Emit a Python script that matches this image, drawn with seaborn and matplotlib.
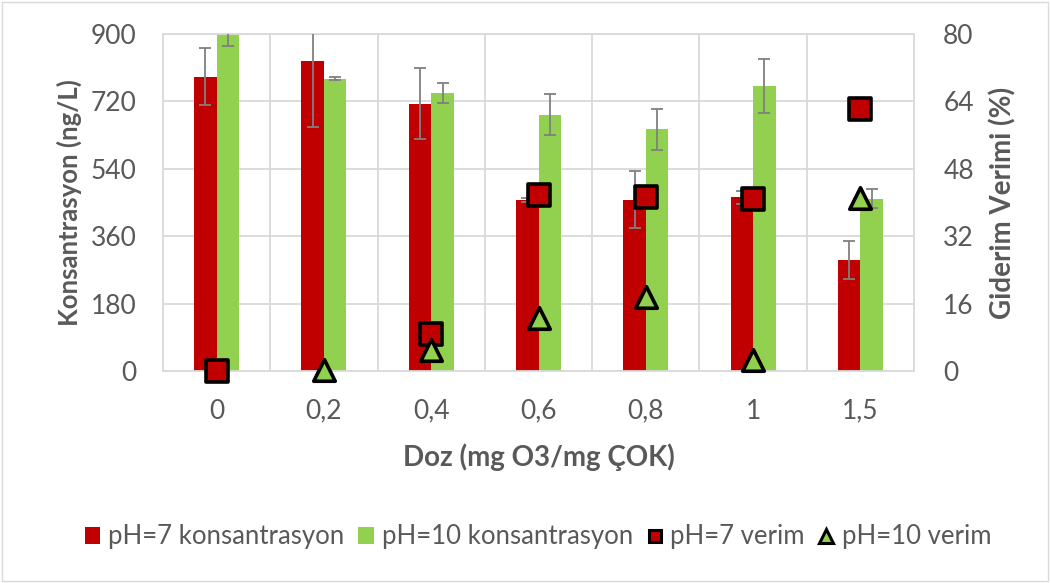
import numpy as np
import pandas as pd
import matplotlib
matplotlib.use("Agg")
import matplotlib.pyplot as plt
import seaborn as sns
from matplotlib.lines import Line2D
from matplotlib.patches import Patch, Rectangle

# Ozone dose categories
doses = ["0", "0,2", "0,4", "0,6", "0,8", "1", "1,5"]

# Concentration (ng/L) with standard deviations
conc_ph7 = [786, 827, 714, 457, 458, 464, 296]
conc_ph7_err = [76, 176, 95, 5, 76, 18, 51]
conc_ph10 = [935, 781, 742, 685, 646, 761, 460]
conc_ph10_err = [67, 5, 26, 55, 55, 72, 26]

# Removal efficiency (%)
eff_ph7 = [0.0, np.nan, 8.9, 41.8, 41.4, 40.8, 62.2]
eff_ph10 = [np.nan, 0.3, 5.0, 12.7, 17.6, 2.7, 41.1]

left_ticks = [0, 180, 360, 540, 720, 900]
right_ticks = [0, 16, 32, 48, 64, 80]

lab7c = "pH=7 konsantrasyon"
lab10c = "pH=10 konsantrasyon"
lab7v = "pH=7 verim"
lab10v = "pH=10 verim"

RED = "#C00000"
GREEN = "#92D050"
TXT = "#595959"
GRID = "#D9D9D9"

sns.set_theme(style="white")
plt.rcParams["font.family"] = ["Lato", "DejaVu Sans"]

fig = plt.figure(figsize=(10.51, 5.83), dpi=100)
ax = fig.add_axes([0.1551, 0.3636, 0.7146, 0.5781])

df = pd.DataFrame({
    "Doz": doses * 2,
    "Konsantrasyon": conc_ph7 + conc_ph10,
    "Seri": [lab7c] * len(doses) + [lab10c] * len(doses),
})
sns.barplot(data=df, x="Doz", y="Konsantrasyon", hue="Seri", order=doses,
            hue_order=[lab7c, lab10c], palette={lab7c: RED, lab10c: GREEN},
            width=0.42, saturation=1, errorbar=None, legend=False, ax=ax,
            linewidth=0)

# error bars on each bar group
for cont, errs in zip(ax.containers, [conc_ph7_err, conc_ph10_err]):
    xs = [p.get_x() + p.get_width() / 2 for p in cont.patches]
    hs = [p.get_height() for p in cont.patches]
    ax.errorbar(xs, hs, yerr=errs, fmt="none", ecolor="#808080",
                elinewidth=1.3, capsize=4.3, capthick=1.3, zorder=3)

ax.set_ylim(0, 900)
ax.set_yticks(left_ticks)
ax.set_xticks(range(len(doses)))
ax.set_xticklabels(doses)
ax.set_xticks(np.arange(0.5, len(doses) - 1, 1), minor=True)
ax.set_axisbelow(True)
ax.grid(axis="y", color=GRID, lw=1.3)
ax.grid(axis="x", which="minor", color=GRID, lw=1.3)
ax.grid(axis="x", which="major", visible=False)
for s in ax.spines.values():
    s.set_visible(True)
    s.set_color(GRID)
    s.set_linewidth(1.3)
ax.tick_params(axis="both", which="both", length=0, colors=TXT, labelsize=19)
ax.tick_params(axis="y", pad=19)
ax.tick_params(axis="x", pad=20)

ax.set_xlabel("Doz (mg O3/mg ÇOK)", fontsize=20, fontweight="bold", color=TXT)
ax.set_ylabel("Konsantrasyon (ng/L)", fontsize=18.5, fontweight="bold", color=TXT)
ax.xaxis.set_label_coords(0.5, -0.215)
ax.xaxis.label.set_va("top")
ax.yaxis.set_label_coords(-0.108, 0.5)

# efficiency markers on the secondary axis
ax2 = ax.twinx()
pos = np.arange(len(doses))
sns.scatterplot(x=pos, y=eff_ph7, marker="s", s=250, color=RED,
                edgecolor="black", linewidth=2.6, ax=ax2, clip_on=False,
                zorder=5)
sns.scatterplot(x=pos, y=eff_ph10, marker="^", s=240, color=GREEN,
                edgecolor="black", linewidth=2.6, ax=ax2, clip_on=False,
                zorder=5)
ax2.set_ylim(0, 80)
ax2.set_yticks(right_ticks)
ax2.grid(False)
for s in ax2.spines.values():
    s.set_visible(False)
ax2.tick_params(axis="y", length=0, colors=TXT, labelsize=19, pad=21)
ax2.set_ylabel("Giderim Verimi (%)", fontsize=20, fontweight="bold", color=TXT)
ax2.yaxis.set_label_coords(1.1, 0.5)
ax.set_xlim(-0.5, len(doses) - 0.5)

handles = [
    Patch(facecolor=RED, edgecolor="none"),
    Patch(facecolor=GREEN, edgecolor="none"),
    Line2D([], [], ls="none", marker="s", markersize=9, markerfacecolor=RED,
           markeredgecolor="black", markeredgewidth=2.2),
    Line2D([], [], ls="none", marker="^", markersize=10, markerfacecolor=GREEN,
           markeredgecolor="black", markeredgewidth=2.2),
]
fig.legend(handles, [lab7c, lab10c, lab7v, lab10v], loc="center",
           bbox_to_anchor=(0.512, 0.079), ncol=4, frameon=False, fontsize=18.5,
           handlelength=0.6, handleheight=0.65, handletextpad=0.3,
           columnspacing=0.55, labelcolor=TXT)

fig.patches.append(Rectangle((0.002, 0.003), 0.995, 0.993,
                             transform=fig.transFigure, fill=False,
                             edgecolor=GRID, lw=1))

fig.savefig("out.png", dpi=100)
